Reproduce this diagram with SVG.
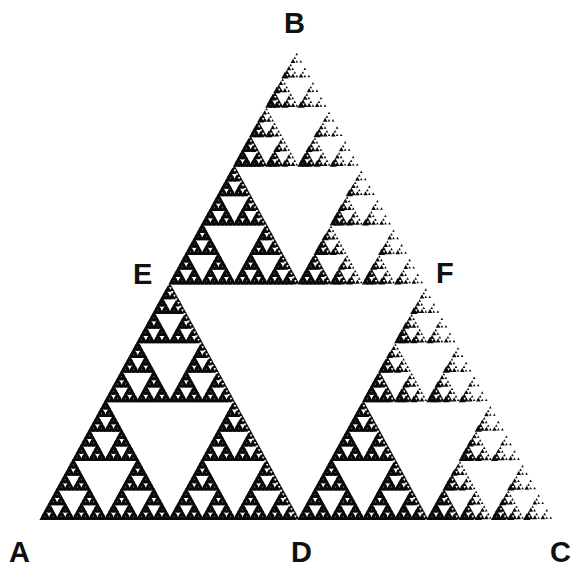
<svg xmlns="http://www.w3.org/2000/svg" width="574" height="568" viewBox="0 0 574 568">
<style>
.lbl{font-family:"Liberation Sans",Arial,sans-serif;font-weight:bold;font-size:29px;fill:#111}
.frac{fill:#0a0a0a}
</style>
<defs>
<polygon id="k0m3" points="-.4,1.2667 .5,-.5333 1.4,1.2667"/>
<polygon id="k0m2" points="-.075,1.05 .5,-.1 1.075,1.05"/>
<polygon id="k0m1" points=".1225,.9475 .4475,.2975 .7725,.9475"/>
<g id="k0m0"/>
<g id="k1m0"><use href="#k0m1" transform="matrix(.5 0 0 .5 0 .5)"/><use href="#k0m0" transform="matrix(.5 0 0 .5 .25 0)"/><use href="#k0m0" transform="matrix(.5 0 0 .5 .5 .5)"/></g>
<g id="k1m1"><use href="#k0m2" transform="matrix(.5 0 0 .5 0 .5)"/><use href="#k0m1" transform="matrix(.5 0 0 .5 .25 0)"/><use href="#k0m1" transform="matrix(.5 0 0 .5 .5 .5)"/></g>
<g id="k1m2"><use href="#k0m3" transform="matrix(.5 0 0 .5 0 .5)"/><use href="#k0m2" transform="matrix(.5 0 0 .5 .25 0)"/><use href="#k0m2" transform="matrix(.5 0 0 .5 .5 .5)"/></g>
<g id="k1m3"><use href="#k0m3" transform="matrix(.5 0 0 .5 0 .5)"/><use href="#k0m3" transform="matrix(.5 0 0 .5 .25 0)"/><use href="#k0m3" transform="matrix(.5 0 0 .5 .5 .5)"/></g>
<g id="k2m0"><use href="#k1m1" transform="matrix(.5 0 0 .5 0 .5)"/><use href="#k1m0" transform="matrix(.5 0 0 .5 .25 0)"/><use href="#k1m0" transform="matrix(.5 0 0 .5 .5 .5)"/></g>
<g id="k2m1"><use href="#k1m2" transform="matrix(.5 0 0 .5 0 .5)"/><use href="#k1m1" transform="matrix(.5 0 0 .5 .25 0)"/><use href="#k1m1" transform="matrix(.5 0 0 .5 .5 .5)"/></g>
<g id="k2m2"><use href="#k1m3" transform="matrix(.5 0 0 .5 0 .5)"/><use href="#k1m2" transform="matrix(.5 0 0 .5 .25 0)"/><use href="#k1m2" transform="matrix(.5 0 0 .5 .5 .5)"/></g>
<g id="k2m3"><use href="#k1m3" transform="matrix(.5 0 0 .5 0 .5)"/><use href="#k1m3" transform="matrix(.5 0 0 .5 .25 0)"/><use href="#k1m3" transform="matrix(.5 0 0 .5 .5 .5)"/></g>
<g id="k3m0"><use href="#k2m1" transform="matrix(.5 0 0 .5 0 .5)"/><use href="#k2m0" transform="matrix(.5 0 0 .5 .25 0)"/><use href="#k2m0" transform="matrix(.5 0 0 .5 .5 .5)"/></g>
<g id="k3m1"><use href="#k2m2" transform="matrix(.5 0 0 .5 0 .5)"/><use href="#k2m1" transform="matrix(.5 0 0 .5 .25 0)"/><use href="#k2m1" transform="matrix(.5 0 0 .5 .5 .5)"/></g>
<g id="k3m2"><use href="#k2m3" transform="matrix(.5 0 0 .5 0 .5)"/><use href="#k2m2" transform="matrix(.5 0 0 .5 .25 0)"/><use href="#k2m2" transform="matrix(.5 0 0 .5 .5 .5)"/></g>
<g id="k3m3"><use href="#k2m3" transform="matrix(.5 0 0 .5 0 .5)"/><use href="#k2m3" transform="matrix(.5 0 0 .5 .25 0)"/><use href="#k2m3" transform="matrix(.5 0 0 .5 .5 .5)"/></g>
<g id="k4m0"><use href="#k3m1" transform="matrix(.5 0 0 .5 0 .5)"/><use href="#k3m0" transform="matrix(.5 0 0 .5 .25 0)"/><use href="#k3m0" transform="matrix(.5 0 0 .5 .5 .5)"/></g>
<g id="k4m1"><use href="#k3m2" transform="matrix(.5 0 0 .5 0 .5)"/><use href="#k3m1" transform="matrix(.5 0 0 .5 .25 0)"/><use href="#k3m1" transform="matrix(.5 0 0 .5 .5 .5)"/></g>
<g id="k4m2"><use href="#k3m3" transform="matrix(.5 0 0 .5 0 .5)"/><use href="#k3m2" transform="matrix(.5 0 0 .5 .25 0)"/><use href="#k3m2" transform="matrix(.5 0 0 .5 .5 .5)"/></g>
<g id="k4m3"><use href="#k3m3" transform="matrix(.5 0 0 .5 0 .5)"/><use href="#k3m3" transform="matrix(.5 0 0 .5 .25 0)"/><use href="#k3m3" transform="matrix(.5 0 0 .5 .5 .5)"/></g>
<g id="k5m0"><use href="#k4m1" transform="matrix(.5 0 0 .5 0 .5)"/><use href="#k4m0" transform="matrix(.5 0 0 .5 .25 0)"/><use href="#k4m0" transform="matrix(.5 0 0 .5 .5 .5)"/></g>
<g id="k5m2"><use href="#k4m3" transform="matrix(.5 0 0 .5 0 .5)"/><use href="#k4m2" transform="matrix(.5 0 0 .5 .25 0)"/><use href="#k4m2" transform="matrix(.5 0 0 .5 .5 .5)"/></g>
<g id="k5m3"><use href="#k4m3" transform="matrix(.5 0 0 .5 0 .5)"/><use href="#k4m3" transform="matrix(.5 0 0 .5 .25 0)"/><use href="#k4m3" transform="matrix(.5 0 0 .5 .5 .5)"/></g>
<g id="k6m0"><use href="#k5m2" transform="matrix(.5 0 0 .5 0 .5)"/><use href="#k5m0" transform="matrix(.5 0 0 .5 .25 0)"/><use href="#k5m0" transform="matrix(.5 0 0 .5 .5 .5)"/></g>
<g id="k6m2"><use href="#k5m3" transform="matrix(.5 0 0 .5 0 .5)"/><use href="#k5m2" transform="matrix(.5 0 0 .5 .25 0)"/><use href="#k5m2" transform="matrix(.5 0 0 .5 .5 .5)"/></g>
<g id="k7m0"><use href="#k6m2" transform="matrix(.5 0 0 .5 0 .5)"/><use href="#k6m0" transform="matrix(.5 0 0 .5 .25 0)"/><use href="#k6m0" transform="matrix(.5 0 0 .5 .5 .5)"/></g>
</defs>
<g id="fractal" class="frac" transform="translate(41 48) scale(516 471)">
<use href="#k7m0"/>
</g>
<g id="labels" class="lbl">
<text x="284" y="33">B</text>
<text x="133" y="284">E</text>
<text x="436" y="283">F</text>
<text x="9" y="562">A</text>
<text x="291" y="562">D</text>
<text x="550" y="562">C</text>
</g>
</svg>
